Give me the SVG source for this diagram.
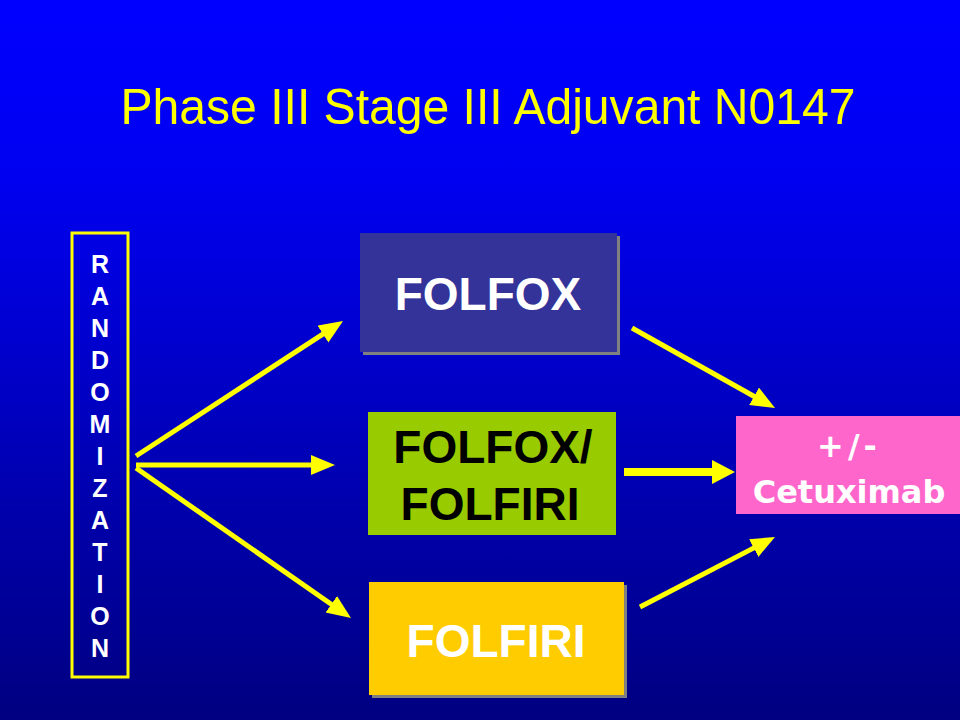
<svg xmlns="http://www.w3.org/2000/svg" width="960" height="720" viewBox="0 0 960 720">
<defs>
<linearGradient id="bg" x1="0" y1="0" x2="0" y2="1">
<stop offset="0" stop-color="#0000ff"/>
<stop offset="0.25" stop-color="#0000f0"/>
<stop offset="1" stop-color="#000080"/>
</linearGradient>
<marker id="ah" markerUnits="userSpaceOnUse" markerWidth="26" markerHeight="22" refX="10" refY="10" orient="auto">
<path d="M0,0 L24,10 L0,20 z" fill="#ffff00"/>
</marker>
<marker id="ahb" markerUnits="userSpaceOnUse" markerWidth="26" markerHeight="26" refX="9" refY="12" orient="auto">
<path d="M0,0 L23,12 L0,24 z" fill="#ffff00"/>
</marker>
</defs>
<style>
.b{font-family:"Liberation Sans",Arial,sans-serif;font-weight:bold;text-anchor:middle}
.v{font-family:"DejaVu Sans",Verdana,sans-serif;font-weight:bold;text-anchor:middle;fill:#ffffff}
.arr{stroke:#ffff00;stroke-width:5;fill:none;marker-end:url(#ah)}
</style>
<rect x="0" y="0" width="960" height="720" fill="url(#bg)"/>
<text x="488" y="124" font-family="Liberation Sans, Arial, sans-serif" font-size="50" fill="#ffff00" text-anchor="middle" textLength="735" lengthAdjust="spacingAndGlyphs">Phase III  Stage III  Adjuvant N0147</text>

<g id="randomization">
<rect x="72" y="233" width="56" height="444" fill="none" stroke="#ffff00" stroke-width="3"/>
<g class="b" font-size="25" fill="#ffffff">
<text x="100" y="273">R</text>
<text x="100" y="305">A</text>
<text x="100" y="337">N</text>
<text x="100" y="369">D</text>
<text x="100" y="401">O</text>
<text x="100" y="433">M</text>
<text x="100" y="465">I</text>
<text x="100" y="497">Z</text>
<text x="100" y="529">A</text>
<text x="100" y="561">T</text>
<text x="100" y="593">I</text>
<text x="100" y="625">O</text>
<text x="100" y="657">N</text>
</g>
</g>

<g id="folfox">
<rect x="363" y="236" width="257" height="119" fill="#808080"/>
<rect x="360" y="233" width="257" height="119" fill="#333399"/>
<text class="b" x="488" y="310" font-size="46" fill="#ffffff">FOLFOX</text>
</g>

<g id="folfox-folfiri">
<rect x="368" y="412" width="248" height="123" fill="#99cc00"/>
<text class="b" x="493" y="463" font-size="46" fill="#000000">FOLFOX/</text>
<text class="b" x="490" y="520" font-size="46" fill="#000000">FOLFIRI</text>
</g>

<g id="folfiri">
<rect x="372" y="585" width="255" height="113" fill="#808080"/>
<rect x="369" y="582" width="255" height="113" fill="#ffcc00"/>
<text class="b" x="496" y="657" font-size="46" fill="#ffffff">FOLFIRI</text>
</g>

<g id="cetuximab">
<rect x="736" y="416" width="224" height="98" fill="#ff66cc"/>
<text class="v" x="849" y="457" font-size="32" letter-spacing="4">+/-</text>
<text class="v" x="849" y="503" font-size="32">Cetuximab</text>
</g>

<g id="connectors">
<line class="arr" x1="136" y1="456" x2="331.3" y2="328.6"/>
<line class="arr" x1="136" y1="465" x2="321" y2="465"/>
<line class="arr" x1="136" y1="468" x2="339.5" y2="610"/>
<line class="arr" x1="632" y1="328" x2="762.8" y2="401.2"/>
<line x1="624" y1="472" x2="721" y2="472" stroke="#ffff00" stroke-width="8" marker-end="url(#ahb)"/>
<line class="arr" x1="640" y1="607" x2="762.6" y2="543.4"/>
</g>
</svg>
